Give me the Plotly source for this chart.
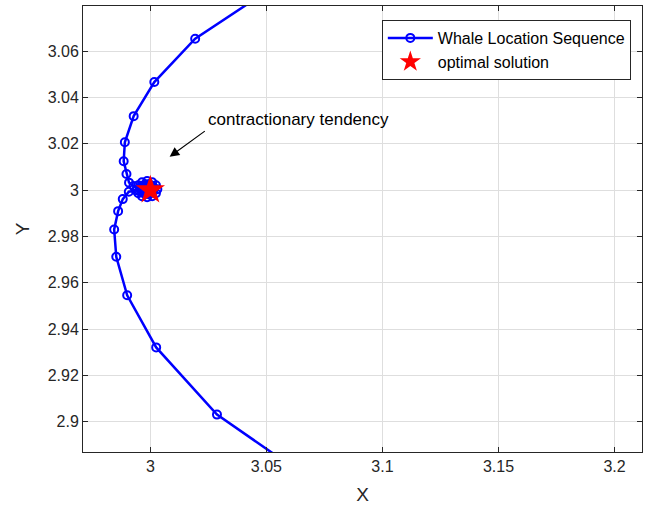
import plotly.graph_objects as go

# Whale location sequence
whale_x = [3.0900, 3.0499, 3.0193, 3.0017, 2.9928, 2.9890, 2.9885, 2.9897, 2.9908, 2.9927,
           2.9948, 2.9964, 2.9986, 3.0008, 3.0024, 3.0030, 3.0024, 3.0008, 2.9986, 2.9964,
           2.9948, 2.9942,
           2.9962, 2.9973, 2.9986, 3.0000, 3.0010, 3.0014, 3.0010, 3.0000, 2.9986, 2.9973,
           2.9962, 2.9958,
           2.9979, 2.9993, 3.0000, 2.9993, 2.9979, 2.9972, 3.0000, 2.9938,
           2.9907, 2.9881, 2.9861, 2.9844, 2.9853, 2.9900, 3.0025, 3.0287, 3.0748, 3.1300]
whale_y = [3.1050, 3.0856, 3.0653, 3.0466, 3.0319, 3.0206, 3.0124, 3.0069, 3.0032, 3.0017,
           3.0021, 3.0034, 3.0039, 3.0034, 3.0021, 3.0004, 2.9986, 2.9973, 2.9969, 2.9973,
           2.9986, 3.0004,
           3.0015, 3.0022, 3.0025, 3.0022, 3.0015, 3.0004, 2.9994, 2.9986, 2.9983, 2.9986,
           2.9994, 3.0004,
           3.0014, 3.0014, 3.0004, 2.9994, 2.9994, 3.0004, 3.0000, 2.9998,
           2.9993, 2.9961, 2.9909, 2.9830, 2.9712, 2.9546, 2.9321, 2.9031, 2.8711, 2.8420]

optimal_x = [3.0]
optimal_y = [3.0]

x_ticks = [3.0, 3.05, 3.1, 3.15, 3.2]
x_tick_labels = ["3", "3.05", "3.1", "3.15", "3.2"]
y_ticks = [2.9, 2.92, 2.94, 2.96, 2.98, 3.0, 3.02, 3.04, 3.06]
y_tick_labels = ["2.9", "2.92", "2.94", "2.96", "2.98", "3", "3.02", "3.04", "3.06"]

FONT = "Liberation Sans, Arial, Helvetica, sans-serif"
AX = "#262626"

fig = go.Figure()
fig.add_trace(go.Scatter(
    x=whale_x, y=whale_y, mode="lines+markers",
    name="Whale Location Sequence",
    line=dict(color="#0000ff", width=2.5),
    marker=dict(symbol="circle-open", size=8, color="#0000ff", line=dict(width=2, color="#0000ff")),
))
fig.add_trace(go.Scatter(
    x=optimal_x, y=optimal_y, mode="markers",
    name="optimal solution",
    marker=dict(symbol="star", size=22, color="#ff0000", line=dict(width=0)),
))

axis_common = dict(
    showgrid=True, gridcolor="#dedede", gridwidth=1,
    showline=True, linecolor=AX, linewidth=1, mirror="ticks",
    ticks="inside", ticklen=5, tickcolor=AX, tickwidth=1,
    zeroline=False,
    tickfont=dict(family=FONT, size=16, color=AX),
)

fig.update_layout(
    width=652, height=509,
    margin=dict(l=83, r=10, t=6, b=57),
    paper_bgcolor="white", plot_bgcolor="white",
    font=dict(family=FONT, color=AX),
    xaxis=dict(range=[2.97097, 3.21183], tickvals=x_ticks, ticktext=x_tick_labels,
               title=dict(text="X", font=dict(family=FONT, size=19, color=AX), standoff=13),
               **axis_common),
    yaxis=dict(range=[2.88696, 3.07943], tickvals=y_ticks, ticktext=y_tick_labels,
               title=dict(text="Y", font=dict(family=FONT, size=19, color=AX), standoff=13),
               **axis_common),
    legend=dict(x=0.98, y=0.9686, xanchor="right", yanchor="top",
                bgcolor="white", bordercolor=AX, borderwidth=1,
                font=dict(family=FONT, size=16, color="black"),
                itemwidth=45, tracegroupgap=0),
    showlegend=True,
)

# arrow
fig.add_annotation(x=3.0083, y=3.0144, ax=3.0241, ay=3.0259, xref="x", yref="y",
                   axref="x", ayref="y", text="", showarrow=True,
                   arrowhead=2, arrowsize=1.6, arrowwidth=1.2, arrowcolor="black")
# text
fig.add_annotation(x=3.0241, y=3.0303, xref="x", yref="y", text="contractionary tendency",
                   showarrow=False, xanchor="left", yanchor="middle",
                   font=dict(family=FONT, size=17, color="black"))

fig.write_html("out.html")
